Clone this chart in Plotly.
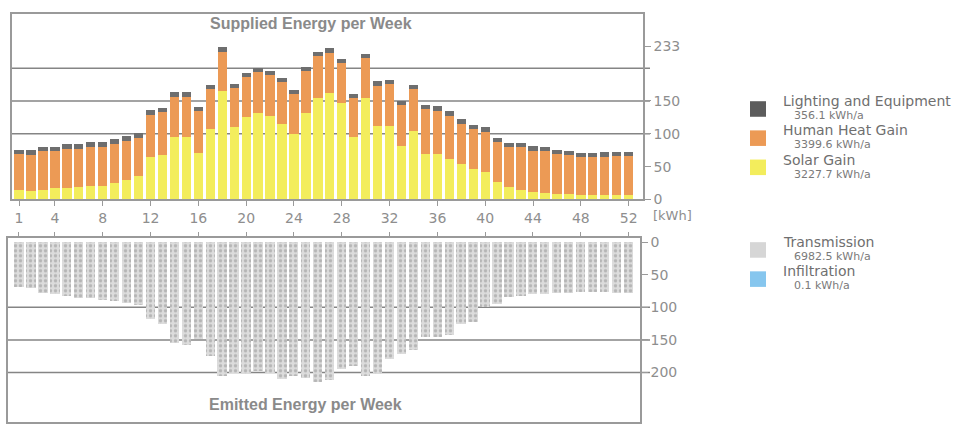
import plotly.graph_objects as go

W, H = 980, 431

weeks = list(range(1, 53))
week_ticks = [1, 4, 8, 12, 16, 20, 24, 28, 32, 36, 40, 44, 48, 52]

# Supplied energy per week [kWh]
solar_gain = [14, 13, 15, 17, 17, 19, 20, 21, 25, 30, 35, 65, 67, 95, 95, 70, 107,
              165, 110, 125, 132, 127, 115, 100, 132, 155, 162, 147, 95, 155, 112, 112,
              82, 105, 69, 69, 62, 54, 47, 42, 27, 19, 14, 12, 10, 9, 8, 7, 6, 6, 6, 7]
human_heat_gain = [55.2, 55.2, 58.2, 56.2, 60.2, 58.2, 60.2, 59.2, 60.2, 59.2, 59.2,
                   64.2, 66.2, 61.2, 61.2, 64.2, 61.2, 60.2, 59.2, 61.2, 62.2, 62.2,
                   63.2, 60.2, 63.2, 63.2, 61.2, 60.2, 59.2, 60.2, 61.2, 63.2, 61.2,
                   63.2, 68.2, 66.2, 65.2, 61.2, 60.2, 61.2, 60.2, 60.2, 65.2, 62.2,
                   63.2, 60.2, 59.2, 57.2, 58.2, 59.2, 60.2, 59.2]
lighting_equipment = [6.8, 6.8, 6.8, 6.8, 6.8, 6.8, 6.8, 6.8, 6.8, 6.8, 6.8, 6.8, 6.8,
                      6.8, 6.8, 6.8, 6.8, 6.8, 6.8, 6.8, 6.8, 6.8, 6.8, 6.8, 6.8, 6.8,
                      6.8, 6.8, 6.8, 6.8, 6.8, 6.8, 6.8, 6.8, 6.8, 6.8, 6.8, 6.8, 6.8,
                      6.8, 6.8, 6.8, 6.8, 6.8, 6.8, 6.8, 6.8, 6.8, 6.8, 6.8, 6.8, 6.8]

# Emitted energy per week [kWh]
transmission = [68, 70, 78, 80, 82, 85, 86, 88, 90, 93, 96, 118, 125, 155, 158, 148, 175,
                205, 200, 203, 198, 200, 210, 205, 208, 215, 212, 195, 190, 205, 203, 180,
                172, 165, 146, 145, 143, 125, 122, 100, 95, 84, 82, 80, 79, 78, 78, 77,
                76, 77, 78, 78]
infiltration = [0.0] * 52

top_ticks = [0, 50, 100, 150, 233]
bottom_ticks = [0, 50, 100, 150, 200]
grid_levels = [100, 150, 200]

legend_items = [
    ("Lighting and Equipment", "356.1 kWh/a", "#5c5c5c", 100),
    ("Human Heat Gain", "3399.6 kWh/a", "#ec9a55", 130),
    ("Solar Gain", "3227.7 kWh/a", "#f3ed5c", 160),
    ("Transmission", "6982.5 kWh/a", "#d6d6d6", 245),
    ("Infiltration", "0.1 kWh/a", "#86c6ee", 275),
]


def px(x):
    return x / W


def py(y):
    return 1 - y / H


AXIS_GREY = "#9a9a9a"
TEXT_GREY = "#8e8e8e"
TICK_FONT = dict(family="DejaVu Sans", size=14, color=TEXT_GREY)

fig = go.Figure()

fig.add_trace(go.Bar(x=weeks, y=solar_gain, name="Solar Gain",
                     marker=dict(color="#f3ed5c", line=dict(width=0)),
                     xaxis="x", yaxis="y"))
fig.add_trace(go.Bar(x=weeks, y=human_heat_gain, name="Human Heat Gain",
                     marker=dict(color="#ec9a55", line=dict(width=0)),
                     xaxis="x", yaxis="y"))
fig.add_trace(go.Bar(x=weeks, y=lighting_equipment, name="Lighting and Equipment",
                     marker=dict(color="#6e6e6e", line=dict(width=0)),
                     xaxis="x", yaxis="y"))

fig.add_trace(go.Bar(x=weeks, y=transmission, name="Transmission",
                     marker=dict(color="#d9d9d9", line=dict(width=0),
                                 pattern=dict(shape=".", fgcolor="#8f8f8f",
                                              bgcolor="#dcdcdc", size=5, solidity=0.35)),
                     xaxis="x2", yaxis="y2"))
fig.add_trace(go.Bar(x=weeks, y=infiltration, name="Infiltration",
                     marker=dict(color="#86c6ee", line=dict(width=0)),
                     xaxis="x2", yaxis="y2"))

x_top_dom = [px(12), px(643)]
x_bot_dom = [px(8), px(640)]

fig.update_layout(
    width=W, height=H,
    margin=dict(l=0, r=0, t=0, b=0),
    paper_bgcolor="white", plot_bgcolor="rgba(0,0,0,0)",
    barmode="stack", bargap=0.22,
    showlegend=False,
    font=dict(family="DejaVu Sans", color=TEXT_GREY),
    xaxis=dict(domain=x_top_dom, range=[0.41, 53.2], tickvals=week_ticks,
               ticks="outside", ticklen=5, tickcolor=AXIS_GREY, tickfont=TICK_FONT,
               showline=True, linecolor=AXIS_GREY, linewidth=1.5, mirror=True,
               showgrid=False, zeroline=False, anchor="y"),
    yaxis=dict(domain=[py(201), py(10)], range=[0, 283], tickvals=top_ticks,
               side="right", ticks="outside", ticklen=6, tickcolor=AXIS_GREY,
               tickfont=TICK_FONT, showline=True, linecolor=AXIS_GREY, linewidth=1.5,
               mirror=True, showgrid=False, zeroline=False, anchor="x"),
    xaxis2=dict(domain=x_bot_dom, range=[0.08, 52.97], tickvals=week_ticks,
                side="top", ticks="outside", ticklen=5, tickcolor=AXIS_GREY,
                showticklabels=False, showline=True, linecolor=AXIS_GREY,
                linewidth=1.5, mirror=True, showgrid=False, zeroline=False,
                anchor="y2"),
    yaxis2=dict(domain=[py(430), py(241)], range=[276, -6], tickvals=bottom_ticks,
                side="right", ticks="outside", ticklen=6, tickcolor=AXIS_GREY,
                tickfont=TICK_FONT, showline=True, linecolor=AXIS_GREY, linewidth=1.5,
                mirror=True, showgrid=False, zeroline=False, anchor="x2"),
)

shapes = []
annotations = []

# horizontal reference lines behind the bars
for lvl in grid_levels:
    shapes.append(dict(type="line", xref="paper", yref="y", x0=x_top_dom[0], x1=px(650),
                       y0=lvl, y1=lvl, layer="below",
                       line=dict(color="#858585", width=1.5)))
    shapes.append(dict(type="line", xref="paper", yref="y2", x0=x_bot_dom[0], x1=px(650),
                       y0=lvl, y1=lvl, layer="below",
                       line=dict(color="#858585", width=1.5)))

annotations.append(dict(text="<b>Supplied Energy per Week</b>", xref="paper", yref="paper",
                        x=px(311), y=py(20), showarrow=False, xanchor="center",
                        yanchor="middle",
                        font=dict(family="Liberation Sans", size=16, color="#8a8a8a")))
annotations.append(dict(text="<b>Emitted Energy per Week</b>", xref="paper", yref="paper",
                        x=px(305), y=py(412), showarrow=False, xanchor="center",
                        yanchor="middle",
                        font=dict(family="Liberation Sans", size=16, color="#8a8a8a")))
annotations.append(dict(text="[kWh]", xref="paper", yref="paper", x=px(651), y=py(218),
                        showarrow=False, xanchor="left", yanchor="middle",
                        font=dict(family="DejaVu Sans", size=13, color=TEXT_GREY)))

# legend swatches with annual totals
for name, total, color, y0 in legend_items:
    shapes.append(dict(type="rect", xref="paper", yref="paper",
                       x0=px(750), x1=px(766), y0=py(y0 + 16), y1=py(y0),
                       fillcolor=color, line=dict(width=0)))
    annotations.append(dict(text=name, xref="paper", yref="paper", x=px(781),
                            y=py(y0), showarrow=False, xanchor="left",
                            yanchor="middle",
                            font=dict(family="DejaVu Sans", size=14, color="#6f6f6f")))
    annotations.append(dict(text=total, xref="paper", yref="paper", x=px(792),
                            y=py(y0 + 15), showarrow=False, xanchor="left",
                            yanchor="middle",
                            font=dict(family="DejaVu Sans", size=11, color="#7a7a7a")))

fig.update_layout(shapes=shapes, annotations=annotations)

fig.write_html("out.html")
